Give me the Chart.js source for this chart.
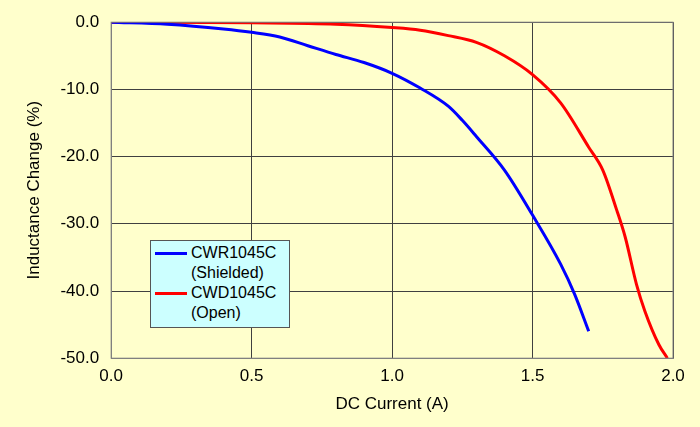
<!DOCTYPE html>
<html><head><meta charset="utf-8">
<script src="https://cdn.jsdelivr.net/npm/chart.js@4"></script>
<style>
body{margin:0;background:#FFFFCC;}
#wrap{position:relative;width:700px;height:427px;}
#lg{position:absolute;left:150px;top:240px;width:140px;height:88px;background:#CCFFFF;border:1px solid #555;font:16px "Liberation Sans",Arial,sans-serif;color:#000;box-sizing:border-box;padding:2px 0 0 4px;line-height:20px}
.r{display:flex;align-items:center}
.ln{width:32px;height:3px;margin-right:4px}
.ind{padding-left:36px}
</style></head><body>
<div id="wrap"><canvas id="c" width="700" height="427"></canvas>
<div id="lg">
<div class="r"><span class="ln" style="background:#0000FF"></span>CWR1045C</div>
<div class="ind">(Shielded)</div>
<div class="r"><span class="ln" style="background:#FF0000"></span>CWD1045C</div>
<div class="ind">(Open)</div>
</div></div>
<script>
const shieldedX=[0,0.2,0.4,0.5,0.6,0.7,0.8,0.9,1.0,1.1,1.2,1.25,1.3,1.4,1.5,1.6,1.65,1.7];
const shieldedY=[0,-0.3,-1,-1.5,-2.2,-3.5,-4.8,-6,-7.6,-9.8,-12.5,-14.6,-17,-22,-28.7,-36,-40.5,-46];
const openX=[0,0.5,0.8,1.0,1.1,1.2,1.3,1.4,1.5,1.6,1.7,1.75,1.8,1.83,1.87,1.9,1.95,1.98];
const openY=[0,-0.1,-0.3,-0.8,-1.2,-2,-3,-5,-7.8,-12,-18.6,-22,-28,-32,-39,-43,-48,-50];
const pts=(xs,ys)=>xs.map((x,i)=>({x,y:ys[i]}));
const bg={id:'bg',beforeDraw(ch){const c=ch.ctx;c.save();c.fillStyle='#FFFFCC';c.fillRect(0,0,ch.width,ch.height);c.restore();},
afterDraw(ch){const a=ch.chartArea,c=ch.ctx;c.save();c.strokeStyle='#808080';c.lineWidth=1;c.strokeRect(a.left,a.top,a.width,a.height);c.restore();}};
const F={family:'"Liberation Sans",Arial,sans-serif',size:17};
new Chart(document.getElementById('c'),{type:'line',
data:{datasets:[
{data:pts(shieldedX,shieldedY),borderColor:'#0000FF',borderWidth:3,pointRadius:0,cubicInterpolationMode:'monotone'},
{data:pts(openX,openY),borderColor:'#FF0000',borderWidth:3,pointRadius:0,cubicInterpolationMode:'monotone'}]},
options:{responsive:false,animation:false,
layout:{padding:{left:20,right:27,top:12,bottom:8}},
plugins:{legend:{display:false},tooltip:{enabled:false}},
scales:{
x:{type:'linear',min:0,max:2,ticks:{stepSize:0.5,color:'#000',font:F,padding:8,callback:v=>v.toFixed(1)},grid:{color:'#404040',drawTicks:false},border:{color:'#808080'},
title:{display:true,text:'DC Current (A)',color:'#000',font:F,padding:{top:0}}},
y:{min:-50,max:0,ticks:{stepSize:10,color:'#000',font:F,padding:12,callback:v=>v.toFixed(1)},grid:{color:'#404040',drawTicks:false},border:{color:'#808080'},
title:{display:true,text:'Inductance Change (%)',color:'#000',font:F}}}},
plugins:[bg]});
</script></body></html>
